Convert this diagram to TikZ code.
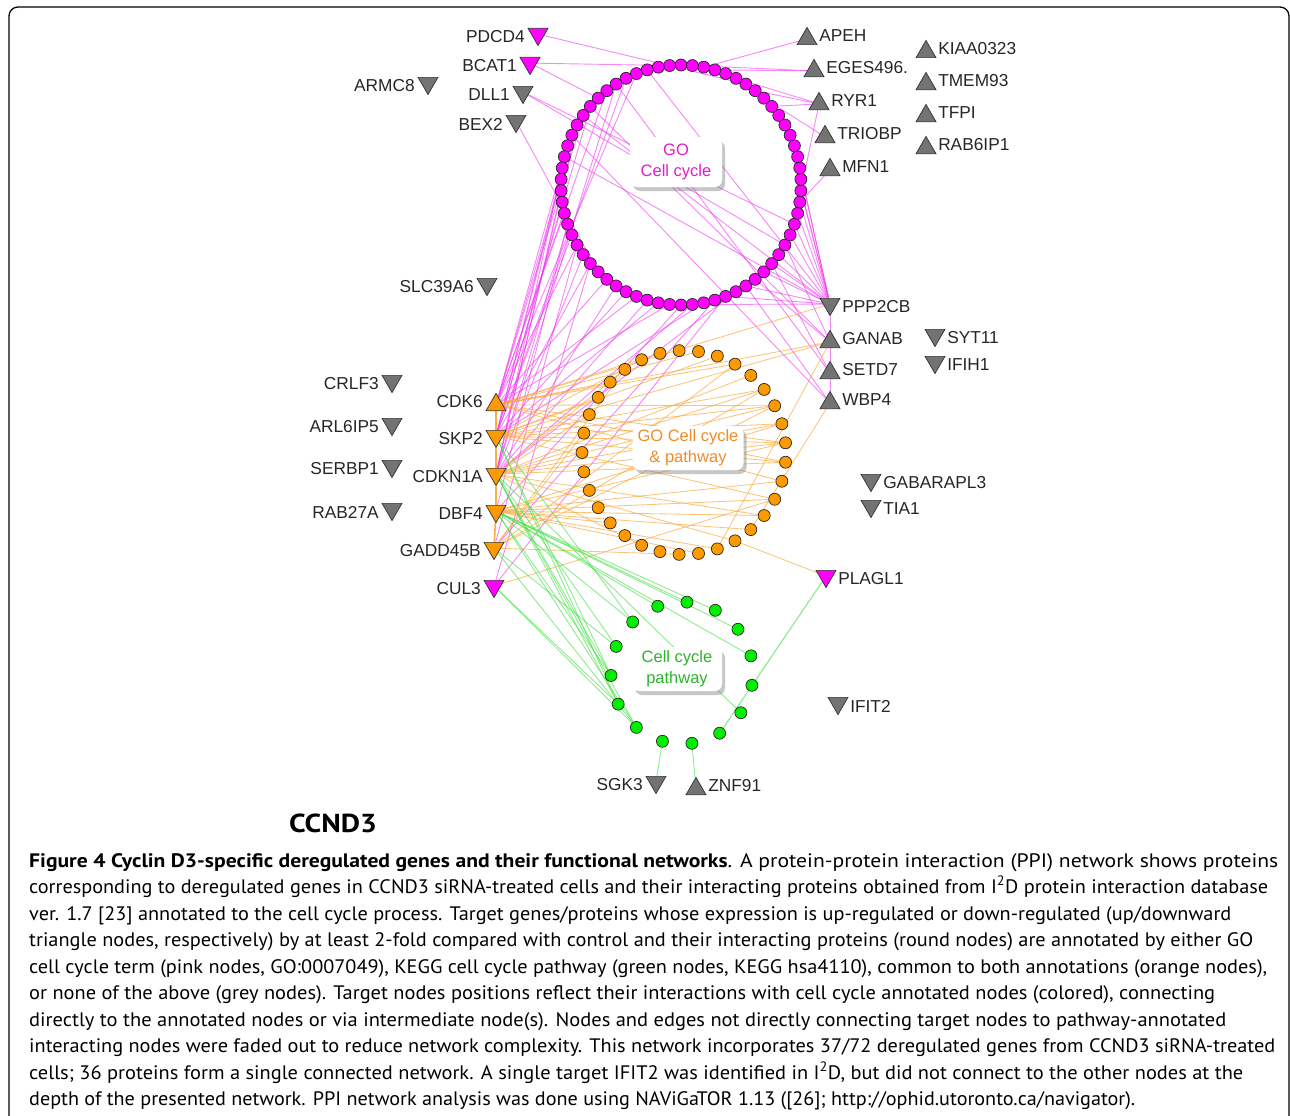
\documentclass[tikz,border=0pt]{standalone}
\usepackage{fontspec}
\usepackage{graphicx}
\setmainfont{Liberation Sans}
\newfontfamily\capfont{PT Sans}
\usetikzlibrary{shapes.geometric,shadows}
\pgfdeclarelayer{edges}
\pgfsetlayers{edges,main}
\definecolor{pk}{RGB}{255,0,255}
\definecolor{og}{RGB}{255,153,0}
\definecolor{gn}{RGB}{0,238,0}
\definecolor{gy}{RGB}{115,115,115}
\definecolor{pkedge}{RGB}{240,55,240}
\definecolor{ogedge}{RGB}{250,165,50}
\definecolor{gnedge}{RGB}{70,225,70}
\definecolor{pktext}{RGB}{225,30,200}
\definecolor{ogtext}{RGB}{240,140,40}
\definecolor{gntext}{RGB}{45,180,45}
\tikzset{
 tri/.style={regular polygon, regular polygon sides=3, minimum size=23pt, inner sep=0pt, draw=black!80, line width=0.7pt},
 dn/.style={tri, shape border rotate=180, yshift=2.9pt},
 upt/.style={tri, yshift=-2.9pt},
 lab/.style={font=\fontsize{17.3}{20}\selectfont, text=black!85, inner sep=1pt},
 dl/.style={dn, label={[lab,yshift=-2.9pt,label distance=5pt]left:#1}},
 dr/.style={dn, label={[lab,yshift=-2.9pt,label distance=4pt]right:#1}},
 ul/.style={upt, label={[lab,yshift=2.9pt,label distance=5pt]left:#1}},
 ur/.style={upt, label={[lab,yshift=2.9pt,label distance=4pt]right:#1}},
 gyf/.style={fill=gy}, pkf/.style={fill=pk}, ogf/.style={fill=og},
 rn/.style={circle, draw=black!85, line width=0.7pt, minimum size=12pt, inner sep=0pt},
 pnode/.style={rn, fill=pk}, onode/.style={rn, fill=og}, gnode/.style={rn, fill=gn},
 pe/.style={draw=pkedge, line width=0.9pt, opacity=0.6},
 oe/.style={draw=ogedge, line width=0.85pt, opacity=0.65},
 ge/.style={draw=gnedge, line width=0.85pt, opacity=0.65},
 tbox/.style={fill=white, rounded corners=7pt, align=center, inner sep=0pt,
   font=\fontsize{16.5}{21}\selectfont,
   drop shadow={shadow xshift=3pt, shadow yshift=-4pt, fill=black!55, opacity=0.4}},
 capline/.style={anchor=base west, inner sep=0pt, font=\capfont\fontsize{19.5}{24}\selectfont},
}
\newcommand\capl[4]{\node[capline] (#1) at (29,#2) {\resizebox{#3pt}{\height}{#4}};}
\begin{document}
\begin{tikzpicture}[x=1pt,y=-1pt]
\useasboundingbox (0,0) rectangle (1290,1116);
\begin{scope}
\clip (0,0) rectangle (1290,1116);
\draw[line width=1.3pt, rounded corners=9pt] (9,1150) rectangle (1289,7);
\end{scope}
% rings
\foreach \k in {0,...,65}
  \node[pnode] (p\k) at ({681+120*cos(90+\k*5.4545)},{185-120*sin(90+\k*5.4545)}) {};
\foreach \k in {0,...,32}
  \node[onode] (o\k) at ({684+102*cos(5.4545+\k*10.909)},{452.5-102*sin(5.4545+\k*10.909)}) {};
\foreach \k in {0,...,14}
  \node[gnode] (g\k) at ({682+71*cos(-82+\k*24)},{673-71*sin(-82+\k*24)}) {};
% boxes
\node[tbox, minimum width=92pt, minimum height=50pt, text=pktext] (boxgo) at (676,162) {GO\\Cell cycle};
\node[tbox, minimum width=111pt, minimum height=44pt, text=ogtext] (boxgop) at (688,448) {GO Cell cycle\\\& pathway};
\node[tbox, minimum width=90pt, minimum height=44pt, text=gntext] (boxcc) at (677,669) {Cell cycle\\pathway};
% targets
\node[dl=PDCD4, pkf] (PDCD4) at (538,37) {};
\node[dl=BCAT1, pkf] (BCAT1) at (530,66) {};
\node[dl=ARMC8, gyf] (ARMC8) at (428,86) {};
\node[dl=DLL1, gyf] (DLL1) at (523,95) {};
\node[dl=BEX2, gyf] (BEX2) at (516,124) {};
\node[dl=SLC39A6, gyf] (SLC39A6) at (487,287) {};
\node[dl=CRLF3, gyf] (CRLF3) at (392,384) {};
\node[dl=ARL6IP5, gyf] (ARL6IP5) at (392,427) {};
\node[dl=SERBP1, gyf] (SERBP1) at (392,469) {};
\node[dl=RAB27A, gyf] (RAB27A) at (392,512) {};
\node[ul=CDK6, ogf] (CDK6) at (496,402) {};
\node[dl=SKP2, ogf] (SKP2) at (496,439) {};
\node[dl=CDKN1A, ogf] (CDKN1A) at (496,477) {};
\node[dl=DBF4, ogf] (DBF4) at (496,514) {};
\node[dl=GADD45B, ogf] (GADD45B) at (494,551) {};
\node[dl=CUL3, pkf] (CUL3) at (494,589) {};
\node[dl=SGK3, gyf] (SGK3) at (656,785) {};
\node[ur=ZNF91, gyf] (ZNF91) at (696,786) {};
\node[ur=APEH, gyf] (APEH) at (807,36) {};
\node[ur=EGES496., gyf] (EGES) at (814,68) {};
\node[ur=RYR1, gyf] (RYR1) at (819,101) {};
\node[ur=TRIOBP, gyf] (TRIOBP) at (825,134) {};
\node[ur=MFN1, gyf] (MFN1) at (830,167) {};
\node[ur=KIAA0323, gyf] (KIAA0323) at (926,49) {};
\node[ur=TMEM93, gyf] (TMEM93) at (926,81) {};
\node[ur=TFPI, gyf] (TFPI) at (926,113) {};
\node[ur=RAB6IP1, gyf] (RAB6IP1) at (926,145) {};
\node[dr=PPP2CB, gyf] (PPP2CB) at (830,307) {};
\node[ur=GANAB, gyf] (GANAB) at (830,339) {};
\node[ur=SETD7, gyf] (SETD7) at (830,370) {};
\node[ur=WBP4, gyf] (WBP4) at (830,400) {};
\node[dr=SYT11, gyf] (SYT11) at (935,338) {};
\node[dr=IFIH1, gyf] (IFIH1) at (935,365) {};
\node[dr=GABARAPL3, gyf] (GABARAPL3) at (871,483) {};
\node[dr=TIA1, gyf] (TIA1) at (871,509) {};
\node[dr=PLAGL1, pkf] (PLAGL1) at (826,579) {};
\node[dr=IFIT2, gyf] (IFIT2) at (838,706) {};
% edges
\begin{pgfonlayer}{edges}
\draw[pe] (PDCD4) -- (p60);
\foreach \k in {1,8} \draw[pe] (BCAT1) -- (p\k);
\foreach \k in {44,46} \draw[pe] (DLL1) -- (p\k);
\draw[pe] (BEX2) -- (p25);
\foreach \k in {4,7,10,13,16,19,22,26,29,32} \draw[pe] (CDK6) -- (p\k);
\foreach \k in {5,9,12,15,18,21,24,28,31,35} \draw[pe] (SKP2) -- (p\k);
\foreach \k in {6,11,14,17,20,23,27,30,34,38} \draw[pe] (CDKN1A) -- (p\k);
\foreach \k in {20,33} \draw[pe] (DBF4) -- (p\k);
\foreach \k in {22,36} \draw[pe] (GADD45B) -- (p\k);
\foreach \k in {24,37} \draw[pe] (CUL3) -- (p\k);
\foreach \k in {3,10,14,34,37,39,41,42,43,45,46,47,48,49,51,53,55} \draw[pe] (PPP2CB) -- (p\k);
\foreach \k in {9,40,44} \draw[pe] (GANAB) -- (p\k);
\foreach \k in {6,42} \draw[pe] (SETD7) -- (p\k);
\foreach \k in {12,39} \draw[pe] (WBP4) -- (p\k);
\draw[pe] (WBP4) -- (PPP2CB);
\draw[pe] (APEH) -- (p64);
\foreach \k in {63,65} \draw[pe] (EGES) -- (p\k);
\foreach \k in {57,59,61,49} \draw[pe] (RYR1) -- (p\k);
\draw[pe] (TRIOBP) -- (p58);
\draw[pe] (MFN1) -- (p48);
% orange
\draw[oe, line width=1.6pt, opacity=0.9] (CDK6) -- (SKP2) -- (CDKN1A) -- (DBF4) -- (GADD45B);
\foreach \k in {0,2,5,7,9,12,31,32} \draw[oe] (CDK6) -- (o\k);
\foreach \k in {0,1,2,3,6,10,13,30,32} \draw[oe] (SKP2) -- (o\k);
\foreach \k in {0,1,2,3,4,11,14,22,27,29,32} \draw[oe] (CDKN1A) -- (o\k);
\foreach \k in {0,1,20,25,26,28,29,30,31} \draw[oe] (DBF4) -- (o\k);
\foreach \k in {2,3,5,11,15,24} \draw[oe] (GADD45B) -- (o\k);
\draw[oe] (CUL3) -- (o30);
\draw[oe] (PLAGL1) -- (o27);
\draw[oe] (WBP4) -- (o28);
\draw[oe] (GANAB) -- (o26);
\draw[oe] (GANAB) -- (CDK6);
\draw[oe] (GANAB) -- (SKP2);
\draw[oe] (PPP2CB) -- (CDK6);
% green
\foreach \k in {9,11,12} \draw[ge] (SKP2) -- (g\k);
\foreach \k in {2,10,11,12,13} \draw[ge] (CDKN1A) -- (g\k);
\foreach \k in {4,5,6,7,8,9,11,13} \draw[ge] (DBF4) -- (g\k);
\foreach \k in {10,13} \draw[ge] (GADD45B) -- (g\k);
\foreach \k in {12,13} \draw[ge] (CUL3) -- (g\k);
\draw[ge, line width=1.1pt] (PLAGL1) -- (g1);
\draw[ge] (SGK3) -- (g14);
\draw[ge] (ZNF91) -- (g0);
\end{pgfonlayer}
% caption
\node[inner sep=0pt, font=\capfont\bfseries\fontsize{26}{30}\selectfont] (title) at (333,823) {\resizebox{88pt}{\height}{CCND3}};
\capl{c1}{867}{1249}{\textbf{Figure 4 Cyclin D3-specific deregulated genes and their functional networks}. A protein-protein interaction (PPI) network shows proteins}
\capl{c2}{893.5}{1239}{corresponding to deregulated genes in CCND3 siRNA-treated cells and their interacting proteins obtained from I\textsuperscript{2}D protein interaction database}
\capl{c3}{920}{1202}{ver. 1.7 [23] annotated to the cell cycle process. Target genes/proteins whose expression is up-regulated or down-regulated (up/downward}
\capl{c4}{946.5}{1224}{triangle nodes, respectively) by at least 2-fold compared with control and their interacting proteins (round nodes) are annotated by either GO}
\capl{c5}{973}{1238}{cell cycle term (pink nodes, GO:0007049), KEGG cell cycle pathway (green nodes, KEGG hsa4110), common to both annotations (orange nodes),}
\capl{c6}{999.5}{1186}{or none of the above (grey nodes). Target nodes positions reflect their interactions with cell cycle annotated nodes (colored), connecting}
\capl{c7}{1026}{1197}{directly to the annotated nodes or via intermediate node(s). Nodes and edges not directly connecting target nodes to pathway-annotated}
\capl{c8}{1052.5}{1246}{interacting nodes were faded out to reduce network complexity. This network incorporates 37/72 deregulated genes from CCND3 siRNA-treated}
\capl{c9}{1079}{1214}{cells; 36 proteins form a single connected network. A single target IFIT2 was identified in I\textsuperscript{2}D, but did not connect to the other nodes at the}
\capl{c10}{1105.5}{1106}{depth of the presented network. PPI network analysis was done using NAViGaTOR 1.13 ([26]; http://ophid.utoronto.ca/navigator).}
\end{tikzpicture}
\end{document}
